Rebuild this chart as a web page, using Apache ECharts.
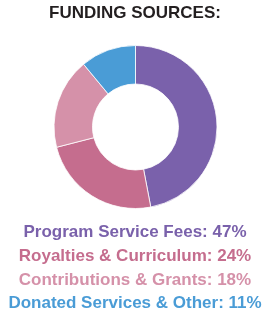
<!DOCTYPE html>
<html><head><meta charset="utf-8">
<script src="https://cdn.jsdelivr.net/npm/echarts@6/dist/echarts.min.js"></script>
<style>html,body{margin:0;padding:0;background:#fff}#c{width:270px;height:326px}</style>
</head><body><div id="c"></div>
<script>
var titleText = 'FUNDING SOURCES:';
var categories = ['Program Service Fees', 'Royalties & Curriculum', 'Contributions & Grants', 'Donated Services & Other'];
var values = [47, 24, 18, 11];
var colors = ['#7a61ab', '#c56d8e', '#d591a9', '#4a9cd6'];
var lineTops = [219, 243, 267, 290];

var chart = echarts.init(document.getElementById('c'), null, {renderer: 'canvas'});
var titles = [{
  text: titleText, left: 'center', top: 0,
  textStyle: {fontFamily: 'Liberation Sans, Arial, sans-serif', fontWeight: 'bold', fontSize: 17, color: '#231f20'}
}];
categories.forEach(function (c, i) {
  titles.push({
    text: c + ': ' + values[i] + '%', left: 'center', top: lineTops[i],
    textStyle: {fontFamily: 'Liberation Sans, Arial, sans-serif', fontWeight: 'bold', fontSize: 17, color: colors[i]}
  });
});
chart.setOption({
  animation: false,
  title: titles,
  series: [{
    type: 'pie',
    center: [135.5, 127],
    radius: [43, 81.5],
    startAngle: 90,
    clockwise: true,
    label: {show: false},
    labelLine: {show: false},
    itemStyle: {borderColor: '#fff', borderWidth: 0.8},
    emphasis: {disabled: true},
    data: categories.map(function (c, i) {
      return {name: c, value: values[i], itemStyle: {color: colors[i]}};
    })
  }]
});
</script></body></html>
